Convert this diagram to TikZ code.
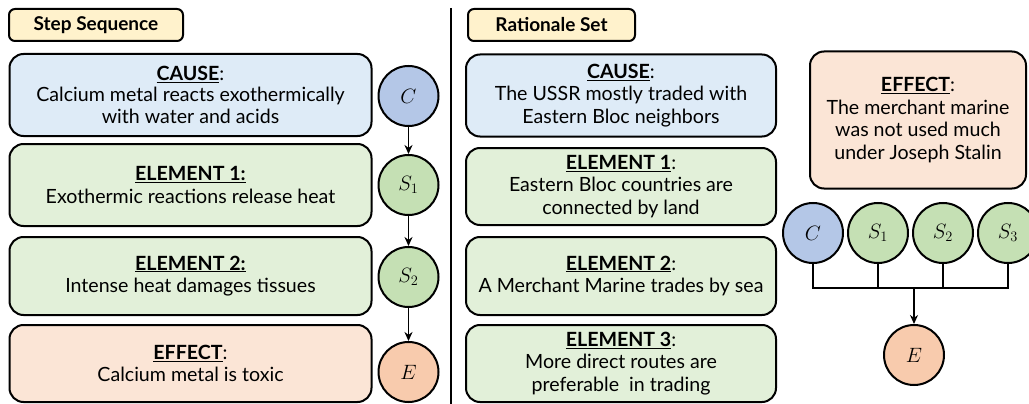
\documentclass[tikz,border=0pt]{standalone}
\usepackage{fontspec}
\setmainfont{Lato}
\usetikzlibrary{positioning,arrows.meta}

\definecolor{causebg}{HTML}{DEEBF7}
\definecolor{stepbg}{HTML}{E2F0D9}
\definecolor{effectbg}{HTML}{FBE5D6}
\definecolor{tagbg}{HTML}{FFF2CC}
\definecolor{causevar}{HTML}{B4C7E7}
\definecolor{stepvar}{HTML}{C5E0B4}
\definecolor{effectvar}{HTML}{F8CBAD}

\begin{document}
\begin{tikzpicture}[x=1pt,y=-1pt,
  box/.style={draw,line width=2pt,rounded corners=14pt,align=center,inner sep=2pt,
    font=\fontsize{19.6}{22.5}\selectfont},
  causebox/.style={box,fill=causebg},
  stepbox/.style={box,fill=stepbg},
  effectbox/.style={box,fill=effectbg},
  tagbox/.style={draw,line width=2pt,rounded corners=6pt,fill=tagbg,minimum height=32pt,
    font=\fontsize{19}{20}\selectfont\bfseries},
  var/.style={circle,draw,line width=2pt,minimum size=60pt,inner sep=0pt,
    font=\fontsize{22}{24}\selectfont},
  wire/.style={line width=1.8pt},
  feed/.style={wire,-{Stealth[length=9pt,width=8pt]}}]

\useasboundingbox (0,0) rectangle (1029,404);

% left: step sequence
\node[tagbox,minimum width=174pt] (lseq) at (96,25) {Step Sequence};
\node[causebox,minimum width=362pt,minimum height=82pt] (lcause) at (190.5,95)
  {\textbf{\underline{CAUSE}}:\\[-2pt]Calcium metal reacts exothermically\\with water and acids};
\node[stepbox,minimum width=362pt,minimum height=82pt] (lstep1) at (190.5,185)
  {\textbf{\underline{ELEMENT 1:}}\\Exothermic reactions release heat};
\node[stepbox,minimum width=362pt,minimum height=78pt] (lstep2) at (190.5,276)
  {\textbf{\underline{ELEMENT 2:}}\\Intense heat damages tissues};
\node[effectbox,minimum width=362pt,minimum height=77pt] (leffect) at (190.5,363.5)
  {\textbf{\underline{EFFECT}}:\\Calcium metal is toxic};

\node[var,fill=causevar] (c) at (408.5,96) {$C$};
\node[var,fill=stepvar] (s1) at (408.5,185) {$S_1$};
\node[var,fill=stepvar] (s2) at (408.5,277) {$S_2$};
\node[var,fill=effectvar] (e) at (408.5,372) {$E$};
\draw[feed] (c) -- (s1);
\draw[feed] (s1) -- (s2);
\draw[feed] (s2) -- (e);

\draw[line width=1.5pt] (451,8) -- (451,404);

% right: rationale set
\node[tagbox,minimum width=167pt] (rset) at (551.5,25) {Rationale Set};
\node[causebox,minimum width=310pt,minimum height=82pt] (rcause) at (621,95.5)
  {\textbf{\underline{CAUSE}}:\\The USSR mostly traded with\\Eastern Bloc neighbors};
\node[stepbox,minimum width=310pt,minimum height=77pt] (rstep1) at (621,186.5)
  {\textbf{\underline{ELEMENT 1}}:\\Eastern Bloc countries are\\connected by land};
\node[stepbox,minimum width=310pt,minimum height=78pt] (rstep2) at (621,276)
  {\textbf{\underline{ELEMENT 2}}:\\A Merchant Marine trades by sea};
\node[stepbox,minimum width=310pt,minimum height=77pt] (rstep3) at (621,363.5)
  {\textbf{\underline{ELEMENT 3}}:\\More direct routes are\\preferable\ \ in trading};
\node[effectbox,minimum width=216pt,minimum height=137pt] (reffect) at (918,120)
  {\textbf{\underline{EFFECT}}:\\The merchant marine\\was not used much\\under Joseph Stalin};

\node[var,fill=causevar] (rc) at (813,233) {$C$};
\node[var,fill=stepvar] (rs1) at (878,233) {$S_1$};
\node[var,fill=stepvar] (rs2) at (943,233) {$S_2$};
\node[var,fill=stepvar] (rs3) at (1008,233) {$S_3$};
\node[var,fill=effectvar] (re) at (914,355) {$E$};

\coordinate (bus) at (914,288);
\draw[wire] (rc.south) |- (bus) -| (rs3.south);
\draw[wire] (rs1.south) -- (rs1.south |- bus);
\draw[wire] (rs2.south) -- (rs2.south |- bus);
\draw[feed] (bus) -- (re);

\end{tikzpicture}
\end{document}
